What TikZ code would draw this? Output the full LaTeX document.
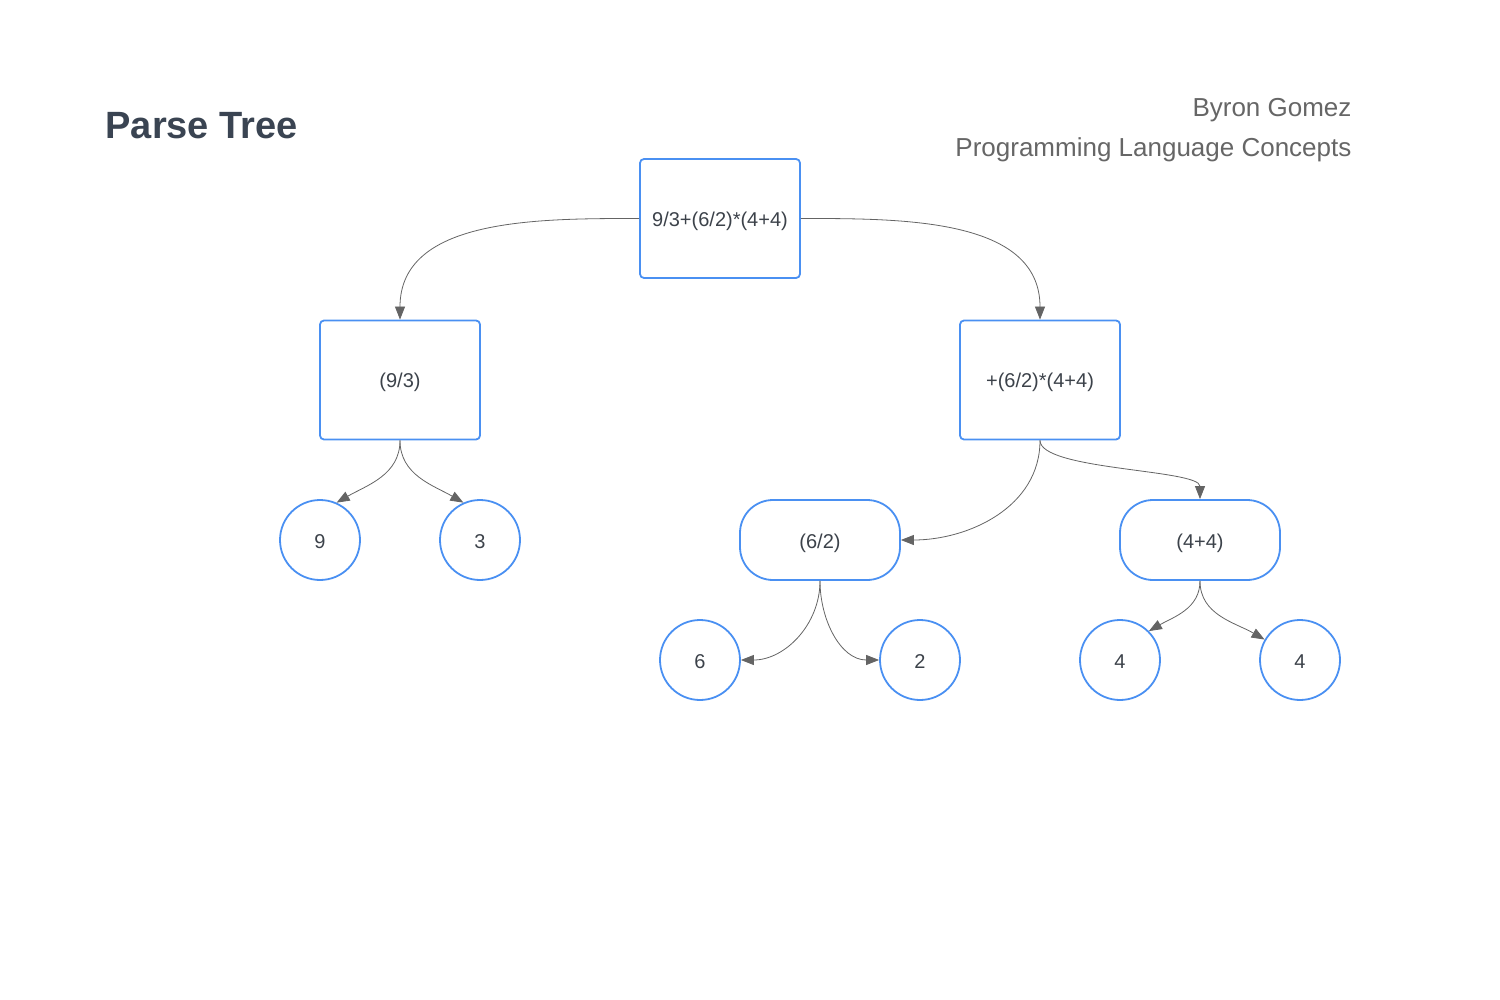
\documentclass[tikz,border=0pt]{standalone}
\usepackage{fontspec}
\setmainfont{Liberation Sans}
\usepackage{tikz}
\definecolor{boxblue}{RGB}{74,144,242}
\definecolor{inkgray}{RGB}{60,66,74}
\definecolor{edgegray}{RGB}{100,100,100}
\definecolor{titlegray}{RGB}{58,68,82}
\definecolor{subgray}{RGB}{102,102,102}
\usetikzlibrary{arrows.meta}

\begin{document}
\begin{tikzpicture}[x=1pt, y=1pt,
    box/.style={draw=boxblue, line width=1.8pt, rectangle, rounded corners=4pt,
                minimum width=160pt, minimum height=119pt, text=inkgray,
                text height=17pt, text depth=1pt,
                font=\fontsize{20}{22}\selectfont},
    pill/.style={draw=boxblue, line width=1.8pt, rectangle, rounded corners=33pt,
                 minimum width=160pt, minimum height=80pt, text=inkgray,
                 text height=17pt, text depth=1pt,
                 font=\fontsize{20}{22}\selectfont},
    leaf/.style={draw=boxblue, line width=1.8pt, circle, minimum size=80pt,
                 inner sep=0pt, text height=16pt, text depth=0pt,
                 text=inkgray, font=\fontsize{20}{22}\selectfont},
    link/.style={edgegray, line width=0.8pt, -{Triangle[length=13pt,width=10pt]}}]

            \useasboundingbox (0,0) rectangle (1500,-1000);

            % heading
            \node[anchor=base west, text=titlegray, font=\fontsize{38}{40}\selectfont\bfseries] (title) at (102,-139) {Parse Tree};
            \node[anchor=base east, text=subgray, font=\fontsize{26}{28}\selectfont] (author) at (1355,-117) {Byron Gomez};
            \node[anchor=base east, text=subgray, font=\fontsize{26}{28}\selectfont] (course) at (1355,-157) {Programming Language Concepts};

            % expressions
            \node[box] (root) at (720,-218.5) {9/3+(6/2)*(4+4)};
            \node[box] (left) at (400,-380) {(9/3)};
            \node[box] (right) at (1040,-380) {+(6/2)*(4+4)};
            \node[pill] (div) at (820,-540) {(6/2)};
            \node[pill] (sum) at (1200,-540) {(4+4)};

            % operands
            \node[leaf] (n9) at (320,-540) {9};
            \node[leaf] (n3) at (480,-540) {3};
            \node[leaf] (n6) at (700,-660) {6};
            \node[leaf] (n2) at (920,-660) {2};
            \node[leaf] (n4a) at (1120,-660) {4};
            \node[leaf] (n4b) at (1300,-660) {4};

            % edges
            \draw[link] (root.west) to[out=180, in=90] (left.north);
            \draw[link] (root.east) to[out=0, in=90] (right.north);
            \draw[link] (left.south) to[out=-90, in=30] (n9.66);
            \draw[link] (left.south) to[out=-90, in=150] (n3.114);
            \draw[link] (right.south) to[out=-90, in=0] (div.east);
            \draw[link] (right.south) to[out=-90, in=90, looseness=0.45] (sum.north);
            \draw[link] (div.south) to[out=-90, in=0] (n6.east);
            \draw[link] (div.south) to[out=-90, in=180] (n2.west);
            \draw[link] (sum.south) to[out=-90, in=30] (n4a.45);
            \draw[link] (sum.south) to[out=-90, in=150] (n4b.150);

\end{tikzpicture}
\end{document}
